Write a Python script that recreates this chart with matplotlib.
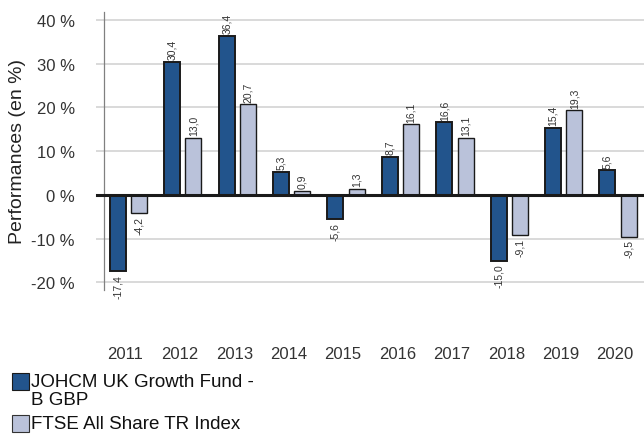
import matplotlib
matplotlib.use('Agg')
import matplotlib.pyplot as plt
from matplotlib.patches import Rectangle
import numpy as np

plt.rcParams['font.family'] = ['Liberation Sans', 'DejaVu Sans']

# donnees
years = ['2011', '2012', '2013', '2014', '2015', '2016', '2017', '2018', '2019', '2020']
fund = [-17.4, 30.4, 36.4, 5.3, -5.6, 8.7, 16.6, -15.0, 15.4, 5.6]
index = [-4.2, 13.0, 20.7, 0.9, 1.3, 16.1, 13.1, -9.1, 19.3, -9.5]
fund_name = 'JOHCM UK Growth Fund -\nB GBP'
index_name = 'FTSE All Share TR Index'

dark = '#22548C'
light = '#BAC2DA'
txt = '#333333'

fig = plt.figure(figsize=(6.44, 4.35), dpi=100)
ax = fig.add_axes([104/644, 1 - 336/435, 1 - 104/644, (336 - 13)/435])

x = np.arange(len(years))
w = 0.294
b1 = ax.bar(x - 0.195, fund, w, color=dark, edgecolor='#1a1a1a', linewidth=1.4, zorder=3)
b2 = ax.bar(x + 0.195, index, w, color=light, edgecolor='#1a1a1a', linewidth=1.0, zorder=3)

for bars, vals in [(b1, fund), (b2, index)]:
    for r, v in zip(bars, vals):
        lab = f'{v:.1f}'.replace('.', ',')
        cx = r.get_x() + r.get_width() / 2
        if v >= 0:
            ax.annotate(lab, (cx, v), xytext=(0, 2), textcoords='offset points',
                        rotation=90, ha='center', va='bottom', fontsize=7.5, color=txt)
        else:
            ax.annotate(lab, (cx, v), xytext=(0, -2), textcoords='offset points',
                        rotation=90, ha='center', va='top', fontsize=7.5, color=txt)

ax.set_xlim(-0.45, 9.476)
ax.set_ylim(-32, 41.8)
ax.set_yticks([-20, -10, 0, 10, 20, 30, 40])
ax.set_yticklabels(['-20 %', '-10 %', '0 %', '10 %', '20 %', '30 %', '40 %'])
ax.set_xticks(x - 0.055)
ax.set_xticklabels(years)
ax.tick_params(axis='x', length=0, pad=8, labelsize=12, labelcolor=txt)
ax.tick_params(axis='y', length=6, width=1.1, color='#D0D0D0', pad=15, labelsize=12, labelcolor=txt)
ax.yaxis.grid(True, color='#D0D0D0', linewidth=1.1, zorder=0)
ax.set_axisbelow(True)

for s in ['top', 'right', 'bottom']:
    ax.spines[s].set_visible(False)
ax.spines['left'].set_color('#808080')
ax.spines['left'].set_linewidth(0.9)
ax.spines['left'].set_bounds(-21.8, 41.8)

ax.axhline(0, xmin=-0.013, xmax=1, color='#1a1a1a', linewidth=2.2, zorder=4, clip_on=False)

fig.text(18/644, 1 - 152/435, 'Performances (en %)', rotation=90, ha='center', va='center',
         fontsize=14, color='#222222')

# legende
fig.patches.append(Rectangle((12/644, 1 - 391/435), 17/644, 17/435, transform=fig.transFigure,
                             facecolor=dark, edgecolor='#1a1a1a', linewidth=0.8))
fig.patches.append(Rectangle((12/644, 1 - 433/435), 17/644, 17/435, transform=fig.transFigure,
                             facecolor=light, edgecolor='#333333', linewidth=0.8))
fig.text(31/644, 1 - 374/435, fund_name, ha='left', va='top', fontsize=13.5,
         color='#111111', linespacing=1.05)
fig.text(31/644, 1 - 425/435, index_name, ha='left', va='center', fontsize=13.5, color='#111111')

fig.savefig('out.png', dpi=100)
